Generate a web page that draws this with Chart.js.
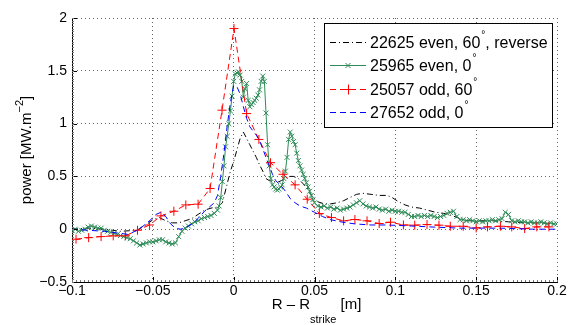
<!DOCTYPE html>
<html>
<head>
<meta charset="utf-8">
<script src="https://cdn.jsdelivr.net/npm/chart.js"></script>
<style>
  body { margin: 0; background: #fff; }
</style>
</head>
<body>
<canvas id="myChart" width="571" height="325"></canvas>
<script>
// tick labels
var xTicks = [-0.1, -0.05, 0, 0.05, 0.1, 0.15, 0.2];
var yTicks = [-0.5, 0, 0.5, 1, 1.5, 2];

// 22625 even, 60deg, reverse (black dash-dot)
var blackX = [-0.100, -0.090, -0.080, -0.070, -0.060, -0.055, -0.050, -0.046, -0.042, -0.038, -0.034, -0.030, -0.026, -0.022, -0.018, -0.014, -0.010, -0.007, -0.004, -0.002, 0.000, 0.002, 0.004, 0.006, 0.008, 0.010, 0.012, 0.014, 0.016, 0.018, 0.020, 0.022, 0.025, 0.028, 0.031, 0.034, 0.037, 0.040, 0.043, 0.046, 0.049, 0.052, 0.056, 0.060, 0.064, 0.068, 0.072, 0.076, 0.080, 0.085, 0.090, 0.095, 0.098, 0.102, 0.106, 0.110, 0.115, 0.120, 0.125, 0.130, 0.135, 0.140, 0.145, 0.150, 0.160, 0.170, 0.180, 0.190, 0.200];
var blackY = [0.00, 0.01, 0.00, -0.02, -0.01, 0.03, 0.09, 0.11, 0.08, 0.06, 0.06, 0.08, 0.10, 0.14, 0.18, 0.20, 0.21, 0.25, 0.43, 0.55, 0.64, 0.75, 0.86, 0.92, 0.86, 0.80, 0.74, 0.68, 0.61, 0.55, 0.48, 0.46, 0.45, 0.45, 0.47, 0.50, 0.50, 0.48, 0.43, 0.38, 0.30, 0.26, 0.24, 0.24, 0.25, 0.27, 0.30, 0.33, 0.34, 0.33, 0.32, 0.32, 0.30, 0.26, 0.23, 0.21, 0.20, 0.18, 0.16, 0.15, 0.13, 0.10, 0.08, 0.08, 0.08, 0.07, 0.06, 0.06, 0.05];

// 25965 even, 0deg (green, x markers)
var greenX = [-0.100, -0.098, -0.096, -0.094, -0.092, -0.090, -0.088, -0.086, -0.084, -0.082, -0.080, -0.078, -0.076, -0.074, -0.072, -0.070, -0.068, -0.066, -0.064, -0.062, -0.060, -0.058, -0.056, -0.054, -0.052, -0.050, -0.048, -0.046, -0.044, -0.042, -0.040, -0.038, -0.036, -0.034, -0.032, -0.030, -0.028, -0.026, -0.024, -0.022, -0.020, -0.018, -0.016, -0.014, -0.012, -0.010, -0.009, -0.008, -0.007, -0.006, -0.005, -0.004, -0.003, -0.002, -0.001, 0.000, 0.001, 0.002, 0.003, 0.004, 0.005, 0.006, 0.007, 0.008, 0.009, 0.010, 0.011, 0.012, 0.013, 0.014, 0.015, 0.016, 0.017, 0.018, 0.019, 0.020, 0.021, 0.022, 0.023, 0.024, 0.025, 0.026, 0.027, 0.028, 0.029, 0.030, 0.031, 0.032, 0.033, 0.034, 0.035, 0.036, 0.037, 0.038, 0.039, 0.040, 0.041, 0.042, 0.043, 0.044, 0.045, 0.046, 0.047, 0.048, 0.049, 0.050, 0.052, 0.054, 0.056, 0.058, 0.060, 0.062, 0.064, 0.066, 0.068, 0.070, 0.072, 0.074, 0.076, 0.078, 0.080, 0.082, 0.084, 0.086, 0.088, 0.090, 0.092, 0.094, 0.096, 0.098, 0.100, 0.102, 0.104, 0.106, 0.108, 0.110, 0.112, 0.114, 0.116, 0.118, 0.120, 0.122, 0.124, 0.126, 0.128, 0.130, 0.132, 0.134, 0.136, 0.138, 0.140, 0.142, 0.144, 0.146, 0.148, 0.150, 0.152, 0.154, 0.156, 0.158, 0.160, 0.162, 0.164, 0.166, 0.168, 0.170, 0.172, 0.174, 0.176, 0.178, 0.180, 0.182, 0.184, 0.186, 0.188, 0.190, 0.192, 0.194, 0.196, 0.198, 0.200];
var greenY = [-0.01, 0.00, -0.02, -0.01, 0.00, 0.02, 0.03, 0.02, 0.01, 0.01, -0.01, -0.02, -0.03, -0.04, -0.05, -0.06, -0.07, -0.08, -0.09, -0.11, -0.13, -0.15, -0.14, -0.13, -0.12, -0.12, -0.11, -0.10, -0.10, -0.12, -0.13, -0.14, -0.13, -0.07, -0.02, 0.01, 0.03, 0.05, 0.07, 0.08, 0.10, 0.11, 0.12, 0.13, 0.15, 0.18, 0.22, 0.30, 0.45, 0.60, 0.78, 0.88, 1.00, 1.12, 1.26, 1.40, 1.47, 1.48, 1.49, 1.46, 1.40, 1.25, 1.33, 1.38, 1.22, 1.16, 1.18, 1.20, 1.22, 1.24, 1.27, 1.32, 1.40, 1.45, 1.40, 1.10, 0.80, 0.60, 0.48, 0.42, 0.40, 0.38, 0.37, 0.38, 0.40, 0.42, 0.48, 0.55, 0.68, 0.85, 0.92, 0.88, 0.83, 0.80, 0.72, 0.65, 0.60, 0.56, 0.52, 0.48, 0.44, 0.40, 0.36, 0.32, 0.28, 0.25, 0.22, 0.21, 0.22, 0.20, 0.21, 0.19, 0.20, 0.18, 0.19, 0.20, 0.21, 0.23, 0.25, 0.27, 0.24, 0.22, 0.21, 0.20, 0.21, 0.19, 0.18, 0.19, 0.17, 0.18, 0.17, 0.17, 0.16, 0.16, 0.14, 0.12, 0.12, 0.13, 0.12, 0.13, 0.12, 0.13, 0.12, 0.11, 0.12, 0.13, 0.15, 0.16, 0.17, 0.12, 0.09, 0.09, 0.08, 0.09, 0.08, 0.07, 0.08, 0.07, 0.08, 0.08, 0.09, 0.08, 0.09, 0.10, 0.16, 0.14, 0.08, 0.07, 0.08, 0.07, 0.07, 0.06, 0.07, 0.06, 0.06, 0.07, 0.06, 0.05, 0.06, 0.05, 0.05];

// 25057 odd, 60deg (red, + markers)
var redX = [-0.0975, -0.0897, -0.082, -0.0745, -0.067, -0.0595, -0.052, -0.045, -0.037, -0.0296, -0.022, -0.0146, -0.0072, 0.0002, 0.008, 0.0156, 0.0228, 0.0305, 0.038, 0.0455, 0.053, 0.0605, 0.068, 0.075, 0.0825, 0.090, 0.097, 0.105, 0.112, 0.1196, 0.127, 0.134, 0.142, 0.150, 0.157, 0.165, 0.172, 0.180, 0.1875, 0.195];
var redY = [-0.095, -0.08, -0.07, -0.063, -0.063, -0.01, 0.04, 0.126, 0.17, 0.23, 0.237, 0.385, 1.127, 1.90, 1.095, 0.85, 0.63, 0.52, 0.42, 0.284, 0.148, 0.11, 0.079, 0.092, 0.079, 0.054, 0.066, 0.04, 0.038, 0.044, 0.038, 0.028, 0.028, 0.012, 0.022, 0.028, 0.022, 0.006, 0.022, 0.022];

// 27652 odd, 0deg (blue dashed)
var blueX = [-0.100, -0.090, -0.080, -0.070, -0.065, -0.060, -0.056, -0.052, -0.048, -0.045, -0.042, -0.039, -0.036, -0.033, -0.030, -0.027, -0.024, -0.021, -0.018, -0.015, -0.012, -0.010, -0.008, -0.006, -0.004, -0.002, 0.000, 0.002, 0.004, 0.006, 0.008, 0.010, 0.012, 0.014, 0.016, 0.018, 0.020, 0.022, 0.024, 0.026, 0.028, 0.030, 0.032, 0.035, 0.038, 0.041, 0.045, 0.050, 0.055, 0.060, 0.066, 0.075, 0.085, 0.095, 0.110, 0.124, 0.140, 0.165, 0.185, 0.200];
var blueY = [0.00, -0.01, -0.02, -0.04, -0.05, -0.01, 0.03, 0.08, 0.14, 0.16, 0.12, 0.05, 0.01, 0.00, 0.01, 0.04, 0.07, 0.12, 0.17, 0.21, 0.25, 0.32, 0.50, 0.72, 0.98, 1.20, 1.36, 1.35, 1.28, 1.16, 1.05, 0.97, 0.93, 0.89, 0.84, 0.76, 0.68, 0.60, 0.52, 0.46, 0.43, 0.40, 0.36, 0.29, 0.25, 0.22, 0.20, 0.16, 0.12, 0.09, 0.07, 0.05, 0.04, 0.04, 0.03, 0.02, 0.01, 0.01, 0.00, 0.00];

var labels = ['22625 even, 60|, reverse', '25965 even, 0|', '25057 odd, 60|', '27652 odd, 0|'];

function pts(xs, ys) {
    return xs.map(function (x, i) { return {x: x, y: ys[i]}; });
}

function fmt(v) {
    var r = Math.round(v * 100) / 100;
    return String(r).replace('-', '\u2212');
}

var FONT = '"Liberation Sans", Arial, Helvetica, sans-serif';

// draws a string where '|' is replaced by a small raised degree sign
function drawDeg(ctx, text, x, y) {
    var parts = text.split('|');
    for (var i = 0; i < parts.length; i++) {
        ctx.font = '16px ' + FONT;
        ctx.fillText(parts[i], x, y);
        x += ctx.measureText(parts[i]).width;
        if (i < parts.length - 1) {
            ctx.font = '10px ' + FONT;
            ctx.fillText('\u00b0', x + 1, y - 9);
            x += ctx.measureText('\u00b0').width + 1;
        }
    }
}

var extras = {
    id: 'extras',
    afterDraw: function (chart) {
        var ctx = chart.ctx;
        var xs = chart.scales.x, ys = chart.scales.y;
        var a = chart.chartArea;
        ctx.save();

        // inward ticks, major and minor
        ctx.strokeStyle = '#000';
        ctx.lineWidth = 1;
        ctx.beginPath();
        xTicks.forEach(function (t) {
            var px = Math.round(xs.getPixelForValue(t)) + 0.5;
            ctx.moveTo(px, a.bottom);
            ctx.lineTo(px, a.bottom - 5);
        });
        yTicks.forEach(function (t) {
            var py = Math.round(ys.getPixelForValue(t)) + 0.5;
            ctx.moveTo(a.left, py);
            ctx.lineTo(a.left + 5, py);
        });
        ctx.stroke();
        ctx.strokeStyle = '#777';
        ctx.beginPath();
        for (var k = 0; k <= 120; k++) {
            var px = Math.round(xs.getPixelForValue(-0.1 + k * 0.0025)) + 0.5;
            ctx.moveTo(px, a.bottom);
            ctx.lineTo(px, a.bottom - 2);
        }
        for (var m = 0; m <= 100; m++) {
            var py = Math.round(ys.getPixelForValue(-0.5 + m * 0.025)) + 0.5;
            ctx.moveTo(a.left, py);
            ctx.lineTo(a.left + 2, py);
        }
        ctx.stroke();

        // legend box
        var bx = 324, by = 23, bw = 228, bh = 104;
        ctx.fillStyle = '#fff';
        ctx.fillRect(bx, by, bw, bh);
        ctx.strokeStyle = '#000';
        ctx.lineWidth = 1;
        ctx.strokeRect(bx + 0.5, by + 0.5, bw, bh);
        var rows = [42, 65, 89, 112];
        chart.data.datasets.forEach(function (ds, i) {
            var ry = rows[i];
            ctx.strokeStyle = ds.borderColor;
            ctx.lineWidth = 1;
            ctx.setLineDash(ds.borderDash || []);
            ctx.beginPath();
            ctx.moveTo(330, ry + 0.5);
            ctx.lineTo(366, ry + 0.5);
            ctx.stroke();
            ctx.setLineDash([]);
            if (ds.pointStyle === 'cross') {
                ctx.strokeStyle = ds.pointBorderColor;
                ctx.lineWidth = 1;
                ctx.beginPath();
                ctx.moveTo(343, ry + 0.5); ctx.lineTo(353, ry + 0.5);
                ctx.moveTo(348.5, ry - 4.5); ctx.lineTo(348.5, ry + 5.5);
                ctx.stroke();
            } else if (ds.pointStyle === 'crossRot') {
                ctx.strokeStyle = ds.pointBorderColor;
                ctx.lineWidth = 1;
                ctx.beginPath();
                ctx.moveTo(345.5, ry - 2); ctx.lineTo(350.5, ry + 3);
                ctx.moveTo(350.5, ry - 2); ctx.lineTo(345.5, ry + 3);
                ctx.stroke();
            }
            ctx.fillStyle = '#000';
            ctx.textBaseline = 'middle';
            ctx.textAlign = 'left';
            drawDeg(ctx, labels[i], 370, ry + 2);
        });

        // x axis title with subscript
        ctx.fillStyle = '#000';
        ctx.textBaseline = 'alphabetic';
        ctx.font = '15px ' + FONT;
        var t1 = 'R \u2013 R', t3 = ' [m]';
        var w1 = ctx.measureText(t1).width, w3 = ctx.measureText(t3).width;
        ctx.font = '11px ' + FONT;
        var w2 = ctx.measureText('strike').width;
        var sx = (a.left + a.right) / 2 - (w1 + w2 + w3) / 2 + 2;
        ctx.font = '15px ' + FONT;
        ctx.fillText(t1, sx, 309);
        ctx.font = '11px ' + FONT;
        ctx.fillText('strike', sx + w1, 323);
        ctx.font = '15px ' + FONT;
        ctx.fillText(t3, sx + w1 + w2, 309);

        // y axis title with superscript
        ctx.translate(31, (a.top + a.bottom) / 2);
        ctx.rotate(-Math.PI / 2);
        var u1 = 'power [MW.m', u3 = ']';
        ctx.font = '15px ' + FONT;
        var v1 = ctx.measureText(u1).width, v3 = ctx.measureText(u3).width;
        ctx.font = '11px ' + FONT;
        var v2 = ctx.measureText('\u22122').width;
        var tx = -(v1 + v2 + v3) / 2;
        ctx.font = '15px ' + FONT;
        ctx.fillText(u1, tx, 0);
        ctx.font = '11px ' + FONT;
        ctx.fillText('\u22122', tx + v1, -8);
        ctx.font = '15px ' + FONT;
        ctx.fillText(u3, tx + v1 + v2, 0);
        ctx.restore();
    }
};

var ctx = document.getElementById('myChart').getContext('2d');
var myChart = new Chart(ctx, {
    type: 'scatter',
    data: {
        datasets: [{
            label: labels[0],
            data: pts(blackX, blackY),
            showLine: true,
            borderColor: '#000',
            borderWidth: 1,
            borderDash: [6, 3, 1, 3],
            pointRadius: 0,
            order: 4
        }, {
            label: labels[1],
            data: pts(greenX, greenY),
            showLine: true,
            borderColor: '#2e8b57',
            borderWidth: 1,
            pointStyle: 'crossRot',
            pointRadius: 3.5,
            pointBorderColor: '#2e8b57',
            pointBorderWidth: 1,
            order: 3
        }, {
            label: labels[2],
            data: pts(redX, redY),
            showLine: true,
            borderColor: '#ff0000',
            borderWidth: 1,
            borderDash: [6, 4],
            pointStyle: 'cross',
            pointRadius: 4.5,
            pointBorderColor: '#ff0000',
            pointBorderWidth: 1,
            order: 2
        }, {
            label: labels[3],
            data: pts(blueX, blueY),
            showLine: true,
            borderColor: '#0000ff',
            borderWidth: 1,
            borderDash: [6, 4],
            pointRadius: 0,
            order: 1
        }]
    },
    options: {
        responsive: false,
        animation: false,
        devicePixelRatio: 1,
        layout: {
            padding: {left: 0, top: 18, right: 14, bottom: 0}
        },
        plugins: {
            legend: {display: false},
            tooltip: {enabled: false}
        },
        scales: {
            x: {
                type: 'linear',
                min: -0.1,
                max: 0.2,
                afterFit: function (s) { s.height = 43; },
                afterBuildTicks: function (s) {
                    s.ticks = xTicks.map(function (v) { return {value: v}; });
                },
                ticks: {
                    callback: function (v) { return fmt(v); },
                    color: '#000',
                    font: {size: 14, family: FONT},
                    padding: 1,
                    maxRotation: 0
                },
                grid: {
                    color: 'rgba(0,0,0,0.6)',
                    drawTicks: false
                },
                border: {color: '#000', dash: [1, 3]}
            },
            y: {
                min: -0.5,
                max: 2,
                afterFit: function (s) { s.width = 72; },
                afterBuildTicks: function (s) {
                    s.ticks = yTicks.map(function (v) { return {value: v}; });
                },
                ticks: {
                    callback: function (v) { return fmt(v); },
                    color: '#000',
                    font: {size: 14, family: FONT},
                    padding: 5
                },
                grid: {
                    color: 'rgba(0,0,0,0.6)',
                    drawTicks: false
                },
                border: {color: '#000', dash: [1, 3]}
            }
        }
    },
    plugins: [extras]
});
</script>
</body>
</html>
